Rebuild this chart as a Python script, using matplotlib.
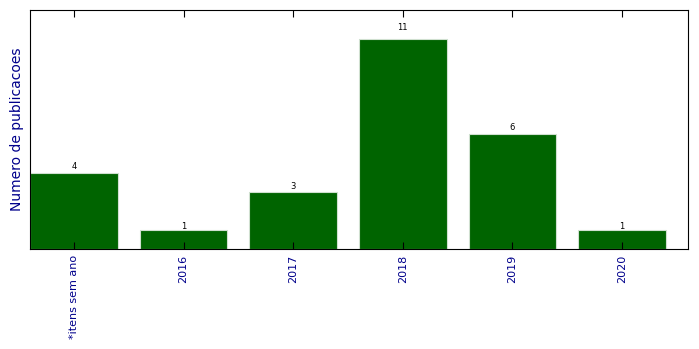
import matplotlib
matplotlib.use('Agg')
import matplotlib.pyplot as plt

# Données
categorias = ['*itens sem ano', '2016', '2017', '2018', '2019', '2020']
publicacoes = [4, 1, 3, 11, 6, 1]

fig = plt.figure(figsize=(6.99, 3.49), dpi=100)
ax = fig.add_axes([0.0429, 0.2865, 0.9413, 0.6848])

pos = range(len(categorias))
barras = ax.bar(pos, publicacoes, width=0.8, color='#006400',
                edgecolor='#d0e0d0', linewidth=0.8)

for b, v in zip(barras, publicacoes):
    ax.text(b.get_x() + b.get_width() / 2, v * 1.04, str(v),
            ha='center', va='baseline', fontsize=6)

ax.set_xlim(-0.4, 5.6)
ax.set_ylim(0, 12.5)
ax.set_yticks([])
ax.set_xticks(list(pos))
ax.set_xticklabels(categorias, rotation=90, color='darkblue', fontsize=8)
ax.tick_params(axis='x', direction='in', top=True, length=5, pad=4)
ax.set_ylabel('Numero de publicacoes', color='darkblue', fontsize=10)

plt.savefig('out.png', dpi=100)
